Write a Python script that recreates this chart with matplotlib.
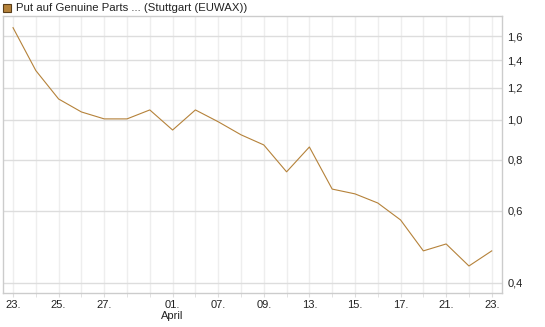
import matplotlib
matplotlib.use("Agg")
import matplotlib.pyplot as plt
from matplotlib.patches import Rectangle
from matplotlib.ticker import FixedLocator, NullFormatter

plt.rcParams['font.family'] = ['Liberation Sans', 'DejaVu Sans']

# price of the put, one value per trading day
prices = [1.68, 1.32, 1.125, 1.046, 1.006, 1.006, 1.058, 0.945, 1.058, 0.99, 0.92,
          0.869, 0.747, 0.859, 0.678, 0.66, 0.627, 0.57, 0.479, 0.498, 0.44, 0.479]
label_pos = [0, 2, 4, 7, 9, 11, 13, 15, 17, 19, 21]
label_txt = ['23.', '25.', '27.', '01.\nApril', '07.', '09.', '13.', '15.', '17.', '21.', '23.']
y_ticks = [0.4, 0.6, 0.8, 1.0, 1.2, 1.4, 1.6]
y_txt = ['0,4', '0,6', '0,8', '1,0', '1,2', '1,4', '1,6']
title = 'Put auf Genuine Parts ... (Stuttgart (EUWAX))'

line_col = '#b5823a'

fig = plt.figure(figsize=(5.45, 3.27), dpi=100)
ax = fig.add_axes([3 / 545, 1 - 293 / 327, 499 / 545, 277 / 327])

x = list(range(len(prices)))
ax.plot(x, prices, color=line_col, lw=0.8, zorder=3)

ax.set_yscale('log')
ax.set_ylim(0.378, 1.794)
ax.set_xlim(-0.44, 21.45)

ax.yaxis.set_major_locator(FixedLocator(y_ticks))
ax.yaxis.set_minor_locator(FixedLocator([]))
ax.set_yticks(y_ticks)
ax.set_yticklabels(y_txt)
ax.yaxis.set_minor_formatter(NullFormatter())
ax.yaxis.tick_right()
ax.tick_params(axis='y', length=0, pad=4, labelsize=8, colors='#222222')

ax.set_xticks(label_pos)
ax.set_xticklabels(label_txt, linespacing=1.1)
ax.set_xticks(x, minor=True)
ax.tick_params(axis='x', which='both', length=3, color='#dddddd', pad=2,
               labelsize=8, labelcolor='#222222')

ax.grid(True, axis='y', color='#dddddd', lw=1.0)
ax.grid(True, axis='x', which='both', color='#eeeeee', lw=1.0)
ax.set_axisbelow(True)

for s in ax.spines.values():
    s.set_color('#cccccc')
    s.set_linewidth(1.0)

# legend square and title
fig.patches.append(Rectangle((3 / 545, 1 - 12 / 327), 8 / 545, 8 / 327,
                             transform=fig.transFigure, facecolor=line_col,
                             edgecolor='#5a3e1a', lw=0.8))
fig.text(16 / 545, 1 - 8 / 327, title, fontsize=8.2, va='center', ha='left',
         color='#222222')

fig.savefig('out.png', dpi=100)
